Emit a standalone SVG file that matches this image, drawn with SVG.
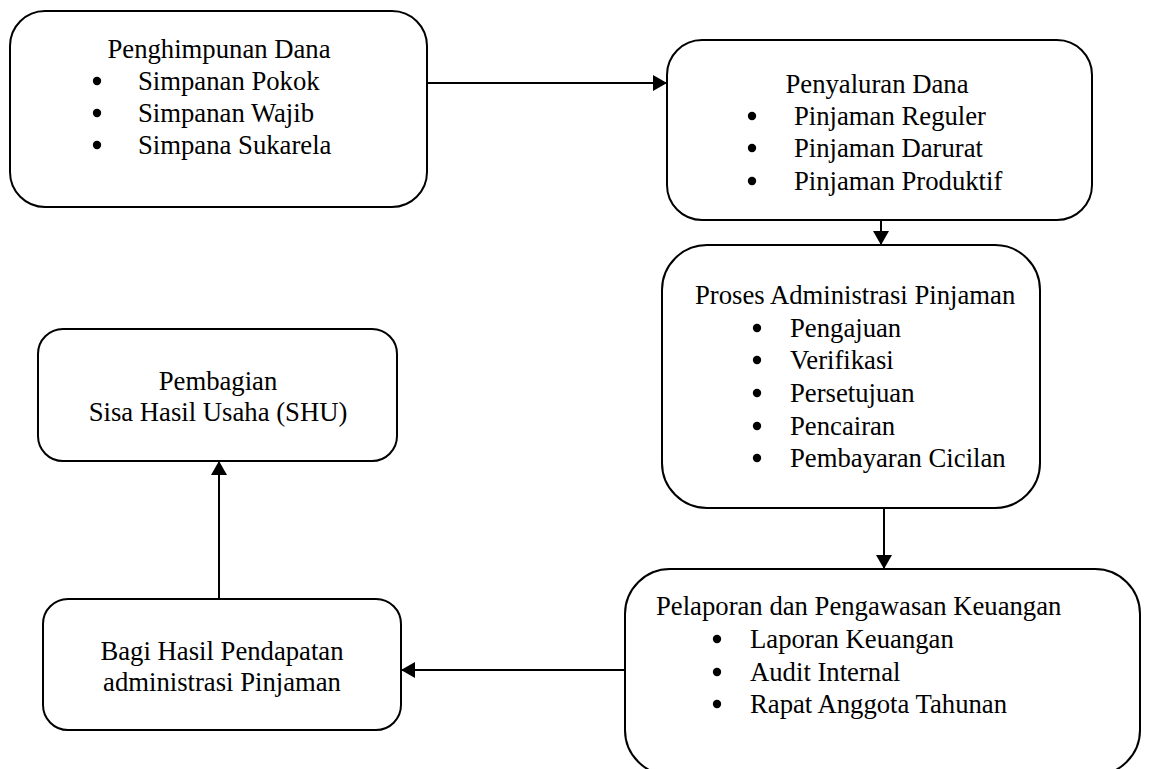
<svg xmlns="http://www.w3.org/2000/svg" width="1152" height="769" viewBox="0 0 1152 769">
<defs>
<style>
.box{fill:#fff;stroke:#000;stroke-width:2}
.t{font-family:"Liberation Serif","Times New Roman",serif;font-size:26.7px;fill:#000}
.c{text-anchor:middle}
.dot{fill:#000}
.line{stroke:#000;stroke-width:2;fill:none}
</style>
<marker id="ah" viewBox="0 0 14 16" refX="14" refY="8" markerWidth="14" markerHeight="16" markerUnits="userSpaceOnUse" orient="auto">
<path d="M0,0 L14,8 L0,16 Z" fill="#000"/>
</marker>
</defs>
<rect width="1152" height="769" fill="#fff"/>
<g id="connectors">
<line class="line" x1="427" y1="83" x2="667" y2="83" marker-end="url(#ah)"/>
<line class="line" x1="881" y1="220" x2="881" y2="245" marker-end="url(#ah)"/>
<line class="line" x1="884" y1="508" x2="884" y2="569" marker-end="url(#ah)"/>
<line class="line" x1="625" y1="670" x2="401" y2="670" marker-end="url(#ah)"/>
<line class="line" x1="219" y1="599" x2="219" y2="461" marker-end="url(#ah)"/>
</g>
<g id="penghimpunan">
<rect class="box" x="10" y="11" width="417" height="196" rx="35"/>
<text class="t c" x="219" y="58">Penghimpunan Dana</text>
<circle class="dot" cx="97" cy="81" r="4.2"/><text class="t" x="138" y="90">Simpanan Pokok</text>
<circle class="dot" cx="97" cy="113" r="4.2"/><text class="t" x="138" y="122">Simpanan Wajib</text>
<circle class="dot" cx="97" cy="145" r="4.2"/><text class="t" x="138" y="154">Simpana Sukarela</text>
</g>
<g id="penyaluran">
<rect class="box" x="667" y="40" width="425" height="180" rx="35"/>
<text class="t c" x="877" y="93">Penyaluran Dana</text>
<circle class="dot" cx="752" cy="116" r="4.2"/><text class="t" x="794" y="125">Pinjaman Reguler</text>
<circle class="dot" cx="752" cy="148" r="4.2"/><text class="t" x="794" y="157">Pinjaman Darurat</text>
<circle class="dot" cx="752" cy="181" r="4.2"/><text class="t" x="794" y="190">Pinjaman Produktif</text>
</g>
<g id="administrasi">
<rect class="box" x="662" y="245" width="378" height="263" rx="45"/>
<text class="t" x="695" y="304">Proses Administrasi Pinjaman</text>
<circle class="dot" cx="757" cy="328" r="4.2"/><text class="t" x="790" y="337">Pengajuan</text>
<circle class="dot" cx="757" cy="360" r="4.2"/><text class="t" x="790" y="369">Verifikasi</text>
<circle class="dot" cx="757" cy="393" r="4.2"/><text class="t" x="790" y="402">Persetujuan</text>
<circle class="dot" cx="757" cy="426" r="4.2"/><text class="t" x="790" y="435">Pencairan</text>
<circle class="dot" cx="757" cy="458" r="4.2"/><text class="t" x="790" y="467">Pembayaran Cicilan</text>
</g>
<g id="pelaporan">
<rect class="box" x="625" y="569" width="515" height="206" rx="45"/>
<text class="t" x="656" y="615">Pelaporan dan Pengawasan Keuangan</text>
<circle class="dot" cx="717" cy="639" r="4.2"/><text class="t" x="750" y="648">Laporan Keuangan</text>
<circle class="dot" cx="717" cy="672" r="4.2"/><text class="t" x="750" y="681">Audit Internal</text>
<circle class="dot" cx="717" cy="704" r="4.2"/><text class="t" x="750" y="713">Rapat Anggota Tahunan</text>
</g>
<g id="bagihasil">
<rect class="box" x="43" y="599" width="358" height="131" rx="25"/>
<text class="t c" x="222" y="660">Bagi Hasil Pendapatan</text>
<text class="t c" x="222" y="691">administrasi Pinjaman</text>
</g>
<g id="shu">
<rect class="box" x="38" y="329" width="359" height="132" rx="25"/>
<text class="t c" x="218" y="390">Pembagian</text>
<text class="t c" x="218" y="421">Sisa Hasil Usaha (SHU)</text>
</g>
</svg>
